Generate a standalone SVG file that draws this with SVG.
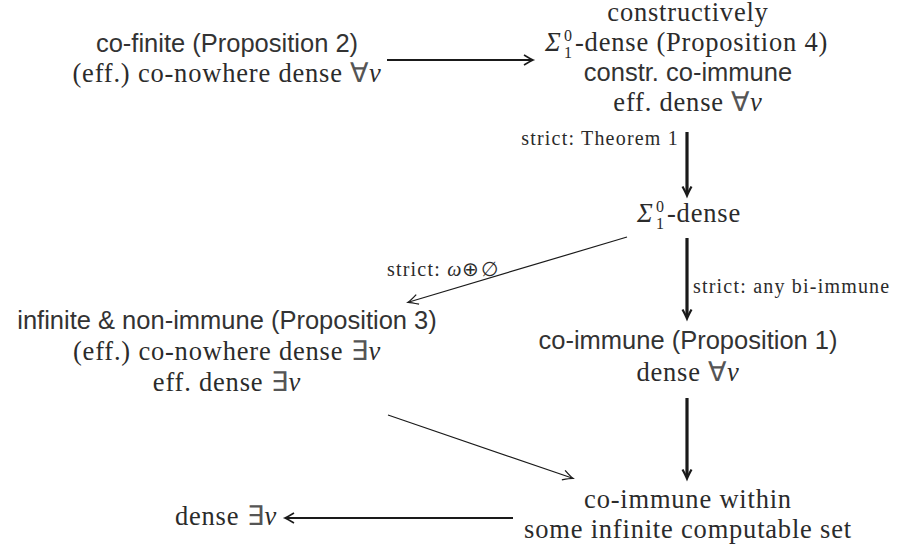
<svg xmlns="http://www.w3.org/2000/svg" width="899" height="550" viewBox="0 0 899 550">
<style>
text{fill:#2b2b2b}
.lb{font-family:'Liberation Serif','Times New Roman',serif;font-size:20px;letter-spacing:1.2px}
.ss{font-family:'Liberation Sans',Arial,sans-serif;font-size:25.5px;fill:#333}
.rm{font-family:'Liberation Serif','Times New Roman',serif;font-size:26.5px;letter-spacing:0.8px}
.sc{font-family:'Liberation Serif','Times New Roman',serif;font-size:16px}
.it{font-style:italic}
.q{fill:#555}
.c{text-anchor:middle}
.e{text-anchor:end}
.thin{stroke:#1a1a1a;stroke-width:1.2;fill:none}
.med{stroke:#1a1a1a;stroke-width:2.2;fill:none}
.thick{stroke:#1a1a1a;stroke-width:3.2;fill:none}
</style>
<defs>
<marker id="ah" markerUnits="userSpaceOnUse" viewBox="-13 -7 15 14" refX="-1" refY="0" markerWidth="15" markerHeight="14" orient="auto" overflow="visible">
<path d="M-10,-5 Q-3,-1 0,0 Q-3,1 -10,5" fill="none" stroke="#1a1a1a" stroke-width="1.3"/>
</marker>
<marker id="ahm" markerUnits="userSpaceOnUse" viewBox="-13 -7 15 14" refX="-1" refY="0" markerWidth="15" markerHeight="14" orient="auto" overflow="visible">
<path d="M-9,-5 Q-2.5,-1 0,0 Q-2.5,1 -9,5" fill="none" stroke="#1a1a1a" stroke-width="1.6"/>
</marker>
<marker id="ahk" markerUnits="userSpaceOnUse" viewBox="-13 -7 15 14" refX="-1.5" refY="0" markerWidth="15" markerHeight="14" orient="auto" overflow="visible">
<path d="M-9,-4.5 Q-2.5,-1 0,0 Q-2.5,1 -9,4.5" fill="none" stroke="#1a1a1a" stroke-width="2.2"/>
</marker>
</defs>
<rect width="899" height="550" fill="#fff"/>

<g id="connectors">
<path class="med" d="M387,60 H532" marker-end="url(#ahm)"/>
<path class="thick" d="M687,132 V194" marker-end="url(#ahk)"/>
<path class="thick" d="M687,238 V317" marker-end="url(#ahk)"/>
<path class="thin" d="M627,237 L409,302" marker-end="url(#ah)"/>
<path class="thin" d="M388,415 L572,478" marker-end="url(#ah)"/>
<path class="thick" d="M687,398 V477" marker-end="url(#ahk)"/>
<path class="med" d="M513,518 H286" marker-end="url(#ahm)"/>
<text class="lb e" x="679" y="145">strict: Theorem 1</text>
<text class="lb" x="693" y="293">strict: any bi-immune</text>
<text class="lb" x="387" y="276">strict: <tspan class="it">ω</tspan>⊕∅</text>
</g>

<g id="n-cofinite">
<text class="ss c" x="227" y="52">co-finite (Proposition 2)</text>
<text class="rm c" x="227" y="82">(eff.) co-nowhere dense <tspan class="q">∀</tspan><tspan class="it">ν</tspan></text>
</g>

<g id="n-constructive">
<text class="rm c" x="688" y="21">constructively</text>
<text class="rm it" x="545" y="51">Σ</text>
<text class="sc" x="564" y="41">0</text>
<text class="sc" x="564" y="58">1</text>
<text class="rm" x="575" y="51">-dense (Proposition 4)</text>
<text class="ss c" x="688" y="81">constr. co-immune</text>
<text class="rm c" x="688" y="111">eff. dense <tspan class="q">∀</tspan><tspan class="it">ν</tspan></text>
</g>

<g id="n-sigma">
<text class="rm it" x="637" y="222">Σ</text>
<text class="sc" x="656" y="212">0</text>
<text class="sc" x="656" y="229">1</text>
<text class="rm" x="667" y="222">-dense</text>
</g>

<g id="n-infinite">
<text class="ss c" x="227" y="329">infinite &amp; non-immune (Proposition 3)</text>
<text class="rm c" x="227" y="360">(eff.) co-nowhere dense <tspan class="q">∃</tspan><tspan class="it">ν</tspan></text>
<text class="rm c" x="227" y="391">eff. dense <tspan class="q">∃</tspan><tspan class="it">ν</tspan></text>
</g>

<g id="n-coimmune">
<text class="ss c" x="688" y="349">co-immune (Proposition 1)</text>
<text class="rm c" x="688" y="381">dense <tspan class="q">∀</tspan><tspan class="it">ν</tspan></text>
</g>

<g id="n-within">
<text class="rm c" x="688" y="508">co-immune within</text>
<text class="rm c" x="688" y="538">some infinite computable set</text>
</g>

<g id="n-dense">
<text class="rm c" x="226" y="525">dense <tspan class="q">∃</tspan><tspan class="it">ν</tspan></text>
</g>
</svg>
